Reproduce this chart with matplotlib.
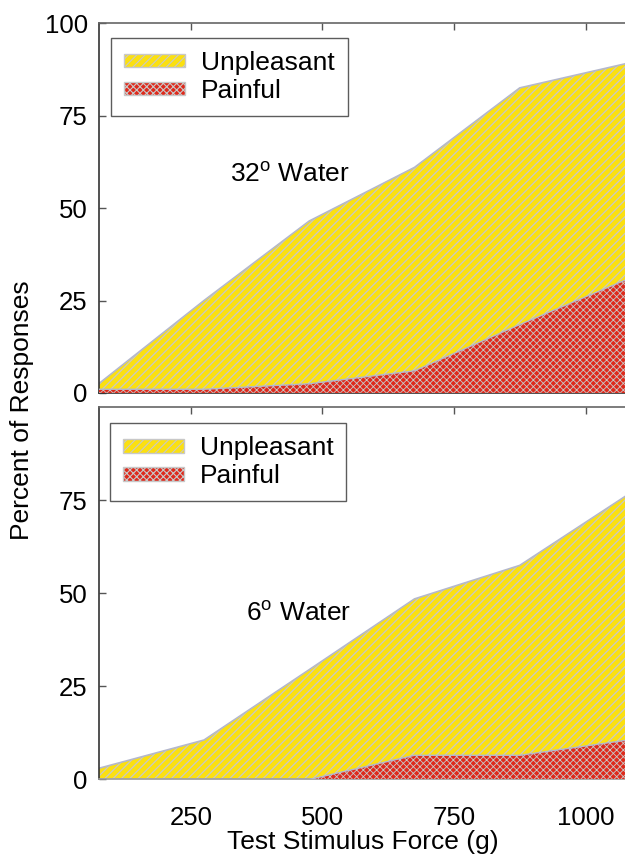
import matplotlib
matplotlib.use('Agg')
import matplotlib.pyplot as plt
import matplotlib.patches as mpatches

plt.rcParams['font.family'] = ['Liberation Sans', 'DejaVu Sans']
plt.rcParams['mathtext.fontset'] = 'custom'
plt.rcParams['mathtext.rm'] = 'Liberation Sans'
plt.rcParams['hatch.linewidth'] = 0.8

# Test stimulus forces (g)
force = [75, 275, 475, 675, 875, 1075]

# 32 deg water
warm_unpleasant = [2.5, 25, 46.5, 61, 82.5, 89]
warm_painful = [1, 1, 2.5, 6, 18.5, 30.5]

# 6 deg water
cold_unpleasant = [3, 10.6, 29.5, 48.5, 57.5, 76]
cold_painful = [0, 0, 0, 6.5, 6.5, 10.5]

yticks_top = [0, 25, 50, 75, 100]
yticks_bottom = [0, 25, 50, 75]
xticks = [250, 500, 750, 1000]

yellow = '#fbe010'
red = '#de2a1c'
hatch_grey = '#c8c8c8'
outline = '#b4b8cc'
stripe = '////'
cross = 'xxxxx'

fig = plt.figure(figsize=(6.25, 8.58), dpi=100)
ax_top = fig.add_axes([0.158, 0.542, 0.842, 0.431])
ax_bot = fig.add_axes([0.158, 0.0915, 0.842, 0.434], sharex=ax_top)


def thin_hatch(artist, lw):
    if hasattr(artist, 'set_hatch_linewidth'):
        artist.set_hatch_linewidth(lw)


def draw_panel(ax, unpleasant, painful, yticks, label, label_xy, leg_anchor):
    f1 = ax.fill_between(force, 0, unpleasant, facecolor=yellow, edgecolor=hatch_grey,
                         hatch=stripe, linewidth=0, zorder=1)
    thin_hatch(f1, 0.9)
    ax.plot(force, unpleasant, color=outline, lw=1.2, zorder=2)
    f2 = ax.fill_between(force, 0, painful, facecolor=red, edgecolor=hatch_grey,
                         hatch=cross, linewidth=0, zorder=3)
    thin_hatch(f2, 0.6)
    ax.plot(force, painful, color=outline, lw=1.0, zorder=4)

    ax.set_xlim(75, 1075)
    ax.set_ylim(0, 100)
    ax.set_yticks(yticks)
    ax.set_xticks(xticks)
    ax.tick_params(axis='y', direction='in', length=5, width=1, color='#555555',
                   labelsize=18.5, pad=8)
    ax.tick_params(axis='x', direction='in', length=5, width=1, color='#555555',
                   top=True, bottom=False, labelsize=18.5, pad=19)
    ax.spines['right'].set_visible(False)
    ax.spines['left'].set_color('#333333')
    ax.spines['top'].set_color('#666666')
    for s in ['left', 'top', 'bottom']:
        ax.spines[s].set_linewidth(1.2)

    ax.text(label_xy[0], label_xy[1], label, ha='center', va='center', fontsize=19)

    h1 = mpatches.Patch(facecolor=yellow, edgecolor=hatch_grey, hatch=stripe,
                        label='Unpleasant')
    h2 = mpatches.Patch(facecolor=red, edgecolor=hatch_grey, hatch=cross,
                        label='Painful')
    thin_hatch(h1, 0.9)
    thin_hatch(h2, 0.6)
    leg = ax.legend(handles=[h1, h2], loc='upper left', bbox_to_anchor=leg_anchor,
                    borderaxespad=0, fontsize=19, frameon=True, fancybox=False,
                    handlelength=2.3, handleheight=0.4, handletextpad=0.6,
                    labelspacing=0.15, borderpad=0.5)
    leg.get_frame().set_edgecolor('#333333')
    leg.get_frame().set_linewidth(1.0)


draw_panel(ax_top, warm_unpleasant, warm_painful, yticks_top,
           '32$^{\\rm o}$ Water', (438, 59), (0.023, 0.96))
draw_panel(ax_bot, cold_unpleasant, cold_painful, yticks_bottom,
           '6$^{\\rm o}$ Water', (455, 44.6), (0.021, 0.957))

ax_top.tick_params(axis='x', labelbottom=False, labeltop=False)
ax_top.spines['bottom'].set_color('#333333')
ax_bot.tick_params(axis='x', labelbottom=True, labeltop=False)
ax_bot.spines['bottom'].set_color('#999999')

fig.text(0.035, 0.522, 'Percent of Responses', rotation=90, ha='center',
         va='center', fontsize=19)
fig.text(0.58, 0.019, 'Test Stimulus Force (g)', ha='center', va='center', fontsize=19)

fig.savefig('out.png', dpi=100, facecolor='white')
